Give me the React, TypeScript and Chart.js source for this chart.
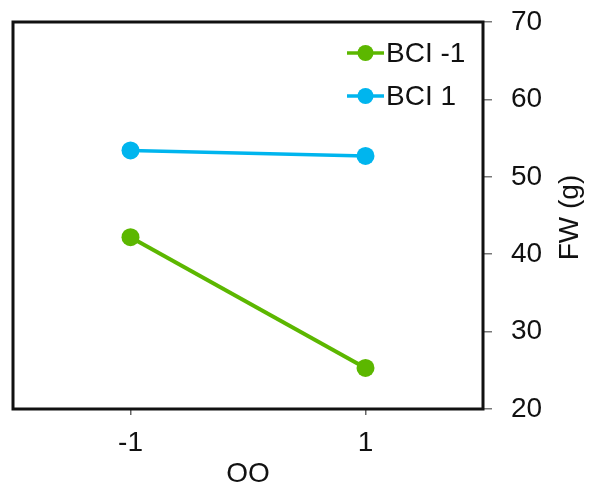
import React, { useEffect, useRef } from "react";
import { Chart, registerables } from "chart.js";

Chart.register(...registerables);

const xCategories = [-1, 1];
const bciMinus1 = [42.2, 25.3];
const bciPlus1 = [53.4, 52.7];
const seriesLabels = ["BCI -1", "BCI 1"];
const yTicks = [20, 30, 40, 50, 60, 70];
const xTitle = "OO";
const yTitle = "FW (g)";

const GREEN = "#5CB700";
const BLUE = "#00B5EE";
const FONT = "'Liberation Sans', Arial, sans-serif";
const FS = 28;

export default function App() {
  const ref = useRef<HTMLCanvasElement | null>(null);
  useEffect(() => {
    if (!ref.current) return;
    const boxPlugin = {
      id: "boxAndExtras",
      beforeDatasetsDraw(chart: any) {
        const { ctx, chartArea } = chart;
        ctx.save();
        ctx.strokeStyle = "#111";
        ctx.lineWidth = 3;
        ctx.strokeRect(chartArea.left, chartArea.top, chartArea.right - chartArea.left, chartArea.bottom - chartArea.top);
        ctx.restore();
      },
      afterDraw(chart: any) {
        const { ctx, chartArea } = chart;
        ctx.save();
        ctx.font = `${FS}px ${FONT}`;
        ctx.fillStyle = "#111";
        ctx.textAlign = "center";
        ctx.textBaseline = "middle";
        ctx.translate(570, (chartArea.top + chartArea.bottom) / 2 + 2);
        ctx.rotate(-Math.PI / 2);
        ctx.fillText(yTitle, 0, 0);
        ctx.restore();
        ctx.save();
        const items = chart.data.datasets;
        const ys = [53, 96];
        items.forEach((ds: any, i: number) => {
          const y = ys[i];
          ctx.strokeStyle = ds.borderColor;
          ctx.lineWidth = 3.5;
          ctx.beginPath();
          ctx.moveTo(347, y);
          ctx.lineTo(384, y);
          ctx.stroke();
          ctx.fillStyle = ds.backgroundColor;
          ctx.beginPath();
          ctx.arc(365.5, y, 8, 0, Math.PI * 2);
          ctx.fill();
          ctx.fillStyle = "#111";
          ctx.font = `${FS}px ${FONT}`;
          ctx.textAlign = "left";
          ctx.textBaseline = "middle";
          ctx.fillText(ds.label, 386, y + 1);
        });
        ctx.restore();
      },
    };
    const chart = new Chart(ref.current, {
      type: "line",
      data: {
        datasets: [
          {
            label: seriesLabels[0],
            data: xCategories.map((x, i) => ({ x, y: bciMinus1[i] })),
            borderColor: GREEN,
            backgroundColor: GREEN,
            borderWidth: 4,
            pointRadius: 9,
            pointHoverRadius: 9,
            pointBorderWidth: 0,
          },
          {
            label: seriesLabels[1],
            data: xCategories.map((x, i) => ({ x, y: bciPlus1[i] })),
            borderColor: BLUE,
            backgroundColor: BLUE,
            borderWidth: 3.5,
            pointRadius: 9,
            pointHoverRadius: 9,
            pointBorderWidth: 0,
          },
        ],
      },
      options: {
        animation: false,
        responsive: false,
        layout: { padding: { left: 13, top: 22, right: 0, bottom: 0 } },
        plugins: { legend: { display: false }, tooltip: { enabled: false } },
        scales: {
          x: {
            type: "linear",
            min: -2,
            max: 2,
            afterBuildTicks: (scale: any) => {
              scale.ticks = xCategories.map((v) => ({ value: v }));
            },
            afterFit: (scale: any) => {
              scale.height = 82;
              scale.paddingLeft = 0;
              scale.paddingRight = 0;
            },
            border: { display: false },
            grid: { drawOnChartArea: false, drawTicks: true, tickLength: 6, color: "#666", lineWidth: 1.5 },
            ticks: {
              padding: 11,
              color: "#111",
              font: { family: FONT, size: FS },
              maxRotation: 0,
              callback: (v: any) => String(v),
            },
            title: {
              display: true,
              text: xTitle,
              color: "#111",
              font: { family: FONT, size: FS },
              padding: { top: 0, bottom: 0 },
            },
          },
          y: {
            position: "right",
            min: 20,
            max: 70,
            afterBuildTicks: (scale: any) => {
              scale.ticks = yTicks.map((v) => ({ value: v }));
            },
            afterFit: (scale: any) => {
              scale.width = 107;
              scale.paddingTop = 0;
              scale.paddingBottom = 0;
            },
            border: { display: false },
            grid: { drawOnChartArea: false, drawTicks: true, tickLength: 9, color: "#777", lineWidth: 1.5 },
            ticks: {
              padding: 19,
              color: "#111",
              font: { family: FONT, size: FS },
            },
          },
        },
      },
      plugins: [boxPlugin],
    });
    return () => chart.destroy();
  }, []);
  return (
    <div style={{ position: "fixed", left: 0, top: 0, width: 590, height: 491, background: "#fff" }}>
      <canvas ref={ref} width={590} height={491} style={{ width: 590, height: 491 }} />
    </div>
  );
}
